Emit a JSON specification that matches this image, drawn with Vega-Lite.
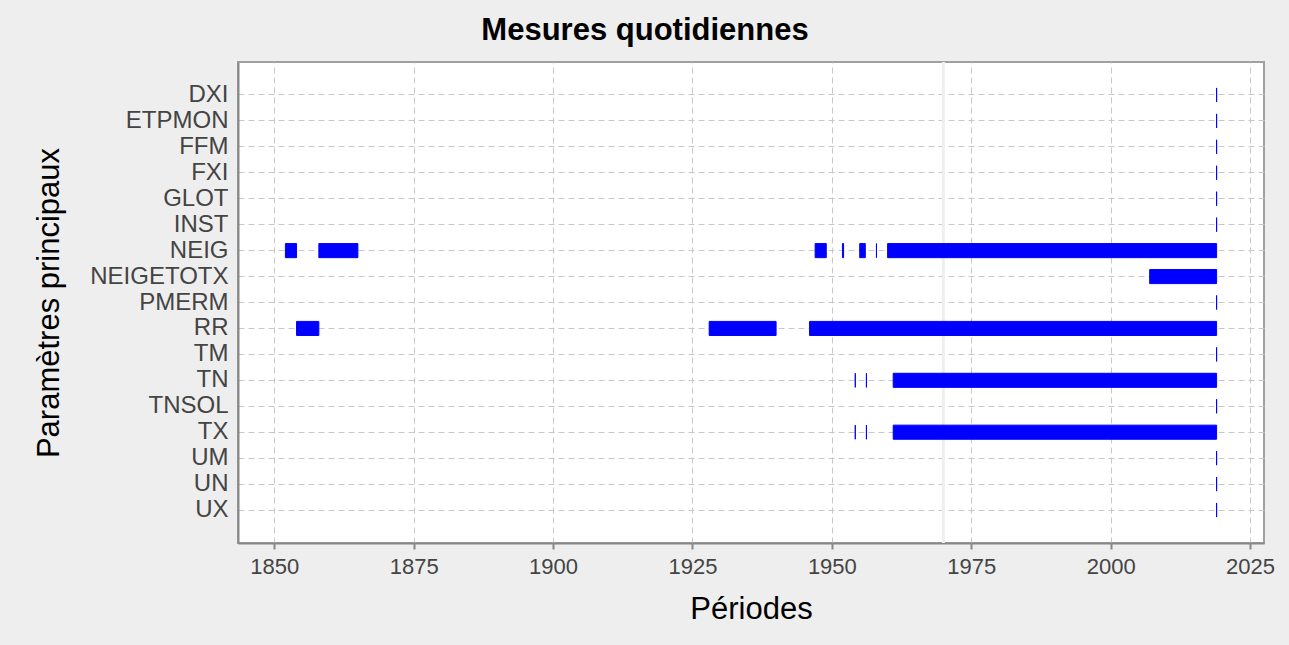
{
  "$schema": "https://vega.github.io/schema/vega-lite/v6.json",
  "width": 1026,
  "height": 481,
  "autosize": {"type": "none"},
  "padding": {"left": 238, "top": 62, "right": 25, "bottom": 102},
  "background": "#eeeeee",
  "config": {
    "font": "Liberation Sans",
    "view": {"fill": "white", "stroke": "#a0a0a0", "strokeWidth": 2}
  },
  "title": {
    "text": "Mesures quotidiennes",
    "fontSize": 31,
    "fontWeight": "bold",
    "color": "black",
    "anchor": "middle",
    "dx": -106,
    "offset": 14,
    "font": "Liberation Sans"
  },
  "layer": [
    {
      "data": {"values": [{"annee": 1970}]},
      "mark": {"type": "rule", "color": "#efefef", "strokeWidth": 3},
      "encoding": {
        "x": {
          "field": "annee",
          "type": "quantitative",
          "title": "Périodes",
          "scale": {"domain": [1843.5, 2027.5], "nice": false, "zero": false}
        }
      }
    },
    {
      "data": {
        "values": [
          {"parametre": "DXI", "debut": 2019, "fin": 2019},
          {"parametre": "ETPMON", "debut": 2019, "fin": 2019},
          {"parametre": "FFM", "debut": 2019, "fin": 2019},
          {"parametre": "FXI", "debut": 2019, "fin": 2019},
          {"parametre": "GLOT", "debut": 2019, "fin": 2019},
          {"parametre": "INST", "debut": 2019, "fin": 2019},
          {"parametre": "NEIG", "debut": 1852, "fin": 1854},
          {"parametre": "NEIG", "debut": 1858, "fin": 1865},
          {"parametre": "NEIG", "debut": 1947, "fin": 1949},
          {"parametre": "NEIG", "debut": 1951.9, "fin": 1952.1},
          {"parametre": "NEIG", "debut": 1955, "fin": 1956},
          {"parametre": "NEIG", "debut": 1958, "fin": 1958},
          {"parametre": "NEIG", "debut": 1960, "fin": 2019},
          {"parametre": "NEIGETOTX", "debut": 2007, "fin": 2019},
          {"parametre": "PMERM", "debut": 2019, "fin": 2019},
          {"parametre": "RR", "debut": 1854, "fin": 1858},
          {"parametre": "RR", "debut": 1928, "fin": 1940},
          {"parametre": "RR", "debut": 1946, "fin": 2019},
          {"parametre": "TM", "debut": 2019, "fin": 2019},
          {"parametre": "TN", "debut": 1954.2, "fin": 1954.2},
          {"parametre": "TN", "debut": 1956.2, "fin": 1956.2},
          {"parametre": "TN", "debut": 1961, "fin": 2019},
          {"parametre": "TNSOL", "debut": 2019, "fin": 2019},
          {"parametre": "TX", "debut": 1954.2, "fin": 1954.2},
          {"parametre": "TX", "debut": 1956.2, "fin": 1956.2},
          {"parametre": "TX", "debut": 1961, "fin": 2019},
          {"parametre": "UM", "debut": 2019, "fin": 2019},
          {"parametre": "UN", "debut": 2019, "fin": 2019},
          {"parametre": "UX", "debut": 2019, "fin": 2019}
        ]
      },
      "mark": {"type": "bar", "color": "#0000ff", "stroke": "#0000ff", "strokeWidth": 1},
      "encoding": {
        "y": {
          "field": "parametre",
          "type": "nominal",
          "scale": {
            "type": "band",
            "domain": ["DXI", "ETPMON", "FFM", "FXI", "GLOT", "INST", "NEIG", "NEIGETOTX", "PMERM", "RR", "TM", "TN", "TNSOL", "TX", "UM", "UN", "UX"],
            "paddingInner": 0.457,
            "paddingOuter": 1.085
          },
          "axis": {
            "title": "Paramètres principaux",
            "ticks": false,
            "domain": true,
            "domainColor": "#888888",
            "domainWidth": 2,
            "labelFontSize": 24,
            "labelColor": "#444444",
            "labelPadding": 10,
            "titleFontSize": 31,
            "titleFontWeight": "normal",
            "titleColor": "black",
            "titlePadding": 24,
            "grid": true,
            "gridDash": [6, 4],
            "gridColor": "#c8c8c8",
            "bandPosition": 0.5
          }
        },
        "x": {
          "field": "debut",
          "type": "quantitative",
          "title": "Périodes",
          "scale": {"domain": [1843.5, 2027.5], "nice": false, "zero": false},
          "axis": {
            "values": [1850, 1875, 1900, 1925, 1950, 1975, 2000, 2025],
            "format": "d",
            "labelFontSize": 22,
            "labelColor": "#444444",
            "labelPadding": 7,
            "tickColor": "#888888",
            "tickSize": 6,
            "tickWidth": 2,
            "domainColor": "#888888",
            "domainWidth": 2,
            "grid": true,
            "gridDash": [6, 4],
            "gridColor": "#c8c8c8",
            "titleFontSize": 31,
            "titleFontWeight": "normal",
            "titleColor": "black",
            "titlePadding": 17
          }
        },
        "x2": {"field": "fin"}
      }
    }
  ]
}
